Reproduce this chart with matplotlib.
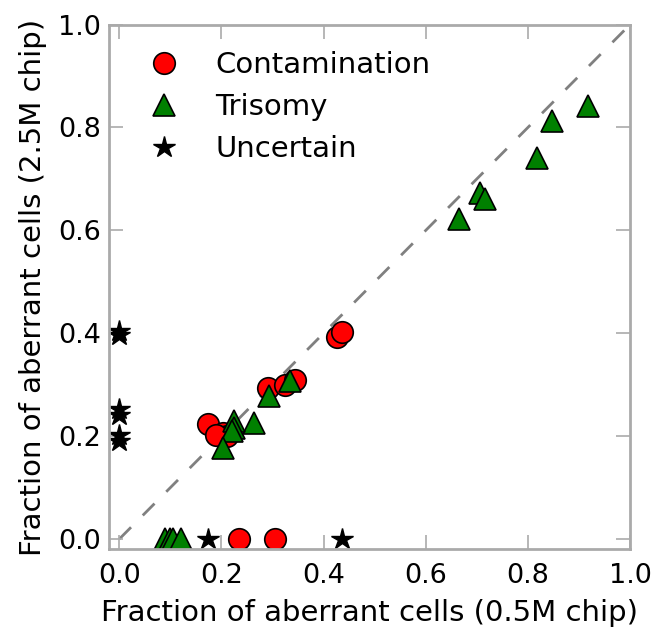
import matplotlib
matplotlib.use('Agg')
import matplotlib.pyplot as plt

# Contamination
cont_x = [0.426, 0.436, 0.292, 0.325, 0.344, 0.173, 0.204, 0.21, 0.19, 0.235, 0.304]
cont_y = [0.392, 0.402, 0.294, 0.30, 0.31, 0.223, 0.206, 0.20, 0.203, 0.0, 0.0]

# Trisomy
tri_x = [0.917, 0.847, 0.817, 0.706, 0.716, 0.666, 0.335, 0.294, 0.263, 0.224, 0.224, 0.22, 0.204,
         0.09, 0.10, 0.105, 0.12]
tri_y = [0.841, 0.812, 0.74, 0.672, 0.661, 0.622, 0.307, 0.278, 0.226, 0.229, 0.216, 0.21, 0.177,
         0.0, 0.0, 0.0, 0.0]

# Uncertain
unc_x = [0.0, 0.0, 0.0, 0.0, 0.0, 0.0, 0.174, 0.436]
unc_y = [0.405, 0.396, 0.252, 0.242, 0.203, 0.19, 0.0, 0.0]

fig = plt.figure(figsize=(6.57, 6.3), dpi=100)
ax = fig.add_axes([0.166, 0.128, 0.793, 0.833])

ax.plot([0, 1], [0, 1], '--', color='gray', lw=2, dashes=(6, 6), zorder=1)
ax.plot(cont_x, cont_y, 'o', color='red', mec='black', mew=1.2, ms=15.5, label='Contamination')
ax.plot(tri_x, tri_y, '^', color='green', mec='black', mew=1.2, ms=16, label='Trisomy')
ax.plot(unc_x, unc_y, '*', color='black', mec='black', ms=16, label='Uncertain')

ax.set_xlim(-0.02, 1.0)
ax.set_ylim(-0.02, 1.0)
ax.set_xticks([0.0, 0.2, 0.4, 0.6, 0.8, 1.0])
ax.set_yticks([0.0, 0.2, 0.4, 0.6, 0.8, 1.0])
ax.set_xlabel('Fraction of aberrant cells (0.5M chip)', fontsize=21, labelpad=7)
ax.set_ylabel('Fraction of aberrant cells (2.5M chip)', fontsize=21, labelpad=8)
ax.tick_params(direction='in', length=10, width=1.2, color='#aaaaaa', labelsize=19.5,
               top=True, right=True)
ax.tick_params(axis='x', pad=10)
ax.tick_params(axis='y', pad=6)
for s in ax.spines.values():
    s.set_color('#aaaaaa')
    s.set_linewidth(2)

ax.legend(loc='upper left', frameon=False, numpoints=1, fontsize=21, handletextpad=0.75,
          borderaxespad=0.5, labelspacing=0.48)

fig.savefig('out.png', dpi=100)
